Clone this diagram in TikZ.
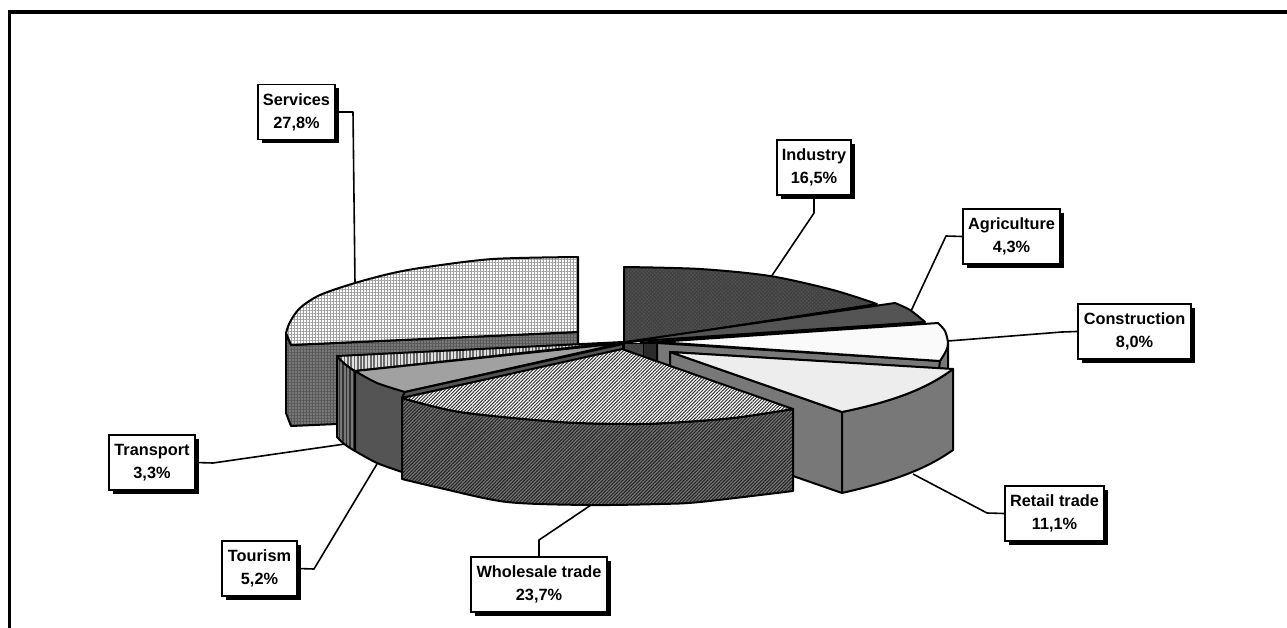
\documentclass[tikz,border=0pt]{standalone}
\usepackage{fontspec}
\setmainfont{Liberation Sans}
\usetikzlibrary{patterns.meta,shadows}
\definecolor{g125}{gray}{0.47}
\definecolor{g85}{gray}{0.33}
\definecolor{g40}{gray}{0.17}
\definecolor{g160}{gray}{0.63}
\tikzset{
  pie/.style={draw=black,line width=2pt,line join=round},
  gridlight/.style={preaction={fill=white},pattern={Hatch[angle=0,distance=3pt,line width=.55pt]},pattern color=black!38},
  griddark/.style={preaction={fill=g125},pattern={Hatch[angle=0,distance=3pt,line width=.9pt]},pattern color=black!65},
  diaglight/.style={preaction={fill=white},pattern={Lines[angle=45,distance=2.4pt,line width=1pt]},pattern color=black!80},
  diagdark/.style={preaction={fill=g125},pattern={Lines[angle=45,distance=2.4pt,line width=1.1pt]},pattern color=black!85},
  crossdark/.style={preaction={fill=g85},pattern={Hatch[angle=45,distance=2.6pt,line width=.9pt]},pattern color=black!75},
  lab/.style={draw=black,line width=1.6pt,fill=white,inner sep=0pt,align=center,font=\fontsize{16.3}{23}\selectfont\bfseries,
    minimum height=55pt,drop shadow={shadow xshift=4pt,shadow yshift=-4pt,fill=black,opacity=1}},
  conn/.style={draw=black,line width=1.6pt,line join=round},
  frameline/.style={draw=black,line width=3.6pt}
}
\begin{document}
\begin{tikzpicture}[x=1pt,y=-1pt]
\useasboundingbox (0,0) rectangle (1287,628);
% frame
\coordinate (fa) at (9.3,628);
\coordinate (fb) at (9.3,12);
\coordinate (fc) at (1287,12);
\draw[frameline] (fa) -- (fb) -- (fc);
% connector ends
\coordinate (sva) at (353,112); \coordinate (svb) at (355,284);
\coordinate (ina) at (814,213); \coordinate (inb) at (771,277);
\coordinate (aga) at (946,236); \coordinate (agb) at (911,311);
\coordinate (coa) at (1062,332); \coordinate (cob) at (948,341);
\coordinate (rea) at (987,513); \coordinate (reb) at (913,474);
\coordinate (wha) at (539,540); \coordinate (whb) at (591,505);
\coordinate (toa) at (314,569); \coordinate (tob) at (377,464);
\coordinate (tra) at (213,463); \coordinate (trb) at (345,444);
% labels
\node[lab,minimum width=77pt] (services) at (296.5,112) {Services\\27,8\%};
\node[lab,minimum width=74pt] (industry) at (814,167.5) {Industry\\16,5\%};
\node[lab,minimum width=97pt] (agri) at (1011.5,236.5) {Agriculture\\4,3\%};
\node[lab,minimum width=113pt] (constr) at (1134.5,331.5) {Construction\\8,0\%};
\node[lab,minimum width=99pt] (retail) at (1054.5,513.5) {Retail trade\\11,1\%};
\node[lab,minimum width=136pt] (whole) at (539,584.5) {Wholesale trade\\23,7\%};
\node[lab,minimum width=75pt] (tourism) at (259.5,568.5) {Tourism\\5,2\%};
\node[lab,minimum width=86pt] (transport) at (152,462.5) {Transport\\3,3\%};
% connectors
\draw[conn] (services.east) -- (sva) -- (svb);
\draw[conn] (industry.south) -- (ina) -- (inb);
\draw[conn] (agri.west) -- (aga) -- (agb);
\draw[conn] (constr.west) -- (coa) -- (cob);
\draw[conn] (retail.west) -- (rea) -- (reb);
\draw[conn] (whole.north) -- (wha) -- (whb);
\draw[conn] (tourism.east) -- (toa) -- (tob);
\draw[conn] (transport.east) -- (tra) -- (trb);
% Services
\draw[pie,griddark] (286,333) -- (291,345) -- (578,332) -- (578,346) -- (337,360) -- (337,424) -- (291,426) -- (286,413) -- cycle;
\draw[pie,gridlight] (578,257) -- (578,332) -- (291,345) -- (286,333)
  -- plot[smooth] coordinates {(286,333) (290,322) (300,308) (320,295) (355,283) (393,273) (427,267) (493,259) (578,257)} -- cycle;
% Transport side
\begin{scope}
\clip (337,356) .. controls (342,362) and (348,367) .. (355,371) -- (355,451) .. controls (348,447) and (342,443) .. (337,437) -- cycle;
\fill[g125] (337,350) rectangle (356,455);
\foreach \sx in {338.5,342,345.5,349,352.5}{\fill[black!80] (\sx,350) rectangle ++(1.8,105);}
\end{scope}
\draw[pie] (337,356) .. controls (342,362) and (348,367) .. (355,371) -- (355,451) .. controls (348,447) and (342,443) .. (337,437) -- cycle;
% Transport top
\begin{scope}
\clip (337,356) -- (623,342) -- (355,371) .. controls (348,367) and (342,362) .. (337,356) -- cycle;
\fill[black!12] (337,340) rectangle (623,375);
\foreach \sx in {337,340.3,...,623}{\fill[black!58] (\sx,340) rectangle ++(1.7,35);}
\end{scope}
\draw[pie] (337,356) -- (623,342) -- (355,371) .. controls (348,367) and (342,362) .. (337,356) -- cycle;
% Tourism
\draw[pie,fill=g85] (355,371) -- (405,392) -- (402,398) -- (402,472) -- plot[smooth] coordinates {(402,472) (377,463) (355,451)} -- cycle;
\draw[pie,fill=g160] (355,371) -- plot[smooth] coordinates {(355,371) (377,383) (405,392)} -- (623,343) -- cycle;
\draw[pie,fill=g85] (405,392) -- (623,344) -- (623,350) -- (402,398) -- cycle;
% Industry
\draw[pie,crossdark] (624,343) -- (624,267) -- plot[smooth] coordinates {(624,267) (700,269) (770,276) (833,290) (877,304)} -- cycle;
% inner faces near the centre
\draw[line width=1pt,crossdark] (624,343) rectangle (643,365);
\draw[line width=1pt,fill=g40] (643,343) rectangle (657,368);
% Agriculture
\draw[pie,fill=g85] (625,342) -- (895,303) -- plot[smooth] coordinates {(895,303) (910,310) (925,322)} -- cycle;
\draw[draw=black,line width=2.4pt] (923,322.5) -- (640,343);
% Construction
\draw[pie,fill=g125] (657,343) -- (940,361) -- (948,343) -- (948,369) -- (670,352) -- (670,372) -- (657,372) -- cycle;
\draw[pie] (940,361) -- (939,369);
\draw[pie,fill=black!2] (657,342) -- (938,323) -- plot[smooth] coordinates {(938,323) (945,331) (948,343) (946,351) (940,361)} -- cycle;
% Retail
\draw[pie,fill=g125] (670,352) -- (842,412) -- (842,493) -- (793,476) -- (670,432) -- cycle;
\draw[pie,fill=g125] (842,412) .. controls (890,402) and (925,390) .. (953,369) -- (953,450) .. controls (925,470) and (890,482) .. (842,493) -- cycle;
\draw[pie,fill=black!7] (670,352) -- (842,412) .. controls (890,402) and (925,390) .. (953,369) -- cycle;
% Wholesale
\draw[pie,diagdark] (402,398) -- plot[smooth] coordinates {(402,398) (460,412) (560,422) (627,424) (667,423) (733,418) (793,409)} -- (793,491)
  -- plot[smooth] coordinates {(793,491) (700,502) (660,504) (590,505) (507,502) (440,488) (402,479)} -- cycle;
\draw[pie,diaglight] (402,398) -- (622,349) -- (793,409) -- plot[smooth] coordinates {(793,409) (733,418) (667,423) (627,424) (560,422) (460,412) (402,398)} -- cycle;
\end{tikzpicture}
\end{document}
